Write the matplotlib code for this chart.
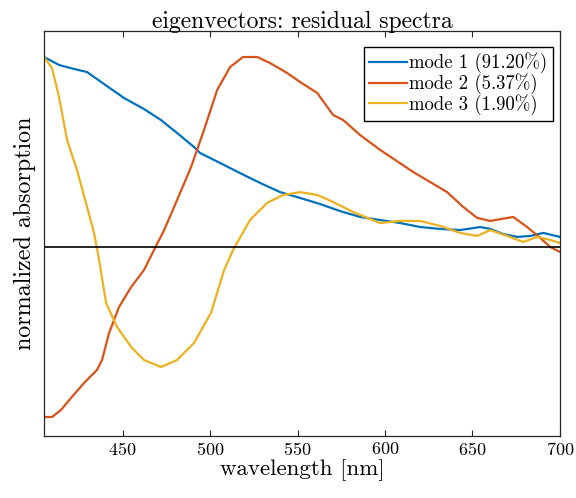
import numpy as np
import matplotlib.pyplot as plt

plt.rcParams['font.family'] = 'serif'
plt.rcParams['font.serif'] = ['cmr10']
plt.rcParams['axes.formatter.use_mathtext'] = True

# mode 1
wl1 = [405.0, 413.6, 422.2, 429.6, 435.3, 443.3, 450.8, 462.2, 471.9, 481.1, 490.8,
       494.2, 505.7, 517.1, 528.6, 540.0, 551.5, 562.9, 574.3, 585.8, 597.2,
       608.7, 620.1, 631.5, 643.0, 654.4, 660.2, 667.6, 675.6, 683.0, 690.5, 700.0]
m1 = [1.0, 0.958, 0.937, 0.921, 0.884, 0.832, 0.784, 0.726, 0.668, 0.600, 0.526,
      0.495, 0.442, 0.389, 0.337, 0.289, 0.258, 0.226, 0.189, 0.158, 0.142,
      0.126, 0.105, 0.095, 0.089, 0.105, 0.095, 0.068, 0.053, 0.058, 0.074, 0.053]

# mode 2
wl2 = [405.0, 409.6, 414.7, 420.4, 427.9, 435.3, 438.2, 442.2, 447.9, 454.8, 462.2,
       467.9, 473.7, 481.1, 489.1, 496.5, 504.0, 511.4, 518.8, 526.9, 534.3,
       544.0, 551.5, 561.2, 570.3, 576.1, 585.8, 597.2, 616.1, 635.5, 644.7,
       652.7, 660.2, 673.3, 681.3, 688.8, 694.5, 700.0]
m2 = [-0.895, -0.895, -0.858, -0.795, -0.716, -0.647, -0.595, -0.453, -0.316, -0.211, -0.121,
      -0.016, 0.089, 0.247, 0.421, 0.616, 0.826, 0.947, 1.0, 1.0, 0.968,
      0.916, 0.868, 0.811, 0.695, 0.668, 0.589, 0.511, 0.395, 0.289, 0.211,
      0.153, 0.137, 0.158, 0.105, 0.047, 0.0, -0.026]

# mode 3
wl3 = [405.0, 409.6, 413.6, 418.2, 423.9, 429.6, 433.6, 436.5, 440.5, 446.8, 454.8,
       462.2, 471.9, 481.1, 490.8, 500.5, 508.0, 513.1, 522.8, 532.6, 541.7,
       551.5, 561.2, 570.3, 581.8, 597.2, 608.7, 620.1, 631.5, 643.0, 652.7,
       660.2, 669.9, 679.0, 687.0, 694.5, 700.0]
m3 = [1.0, 0.942, 0.789, 0.563, 0.405, 0.211, 0.074, -0.068, -0.295, -0.421, -0.526,
      -0.595, -0.632, -0.595, -0.505, -0.347, -0.121, -0.016, 0.142, 0.232, 0.274,
      0.289, 0.274, 0.237, 0.184, 0.126, 0.137, 0.137, 0.111, 0.074, 0.058,
      0.089, 0.058, 0.026, 0.053, 0.037, 0.021]

labels = ['mode 1 (91.20%)', 'mode 2 (5.37%)', 'mode 3 (1.90%)']
cols = ['#0072BD', '#D95319', '#EDB120']

fig = plt.figure(figsize=(5.76, 4.98), dpi=100)
ax = fig.add_axes([0.0764, 0.1245, 0.8956, 0.8133])

for wl, m, c, lab in zip([wl1, wl2, wl3], [m1, m2, m3], cols, labels):
    ax.plot(wl, m, color=c, lw=1.6, label=lab, solid_joinstyle='round')
ax.axhline(0, color='k', lw=1.2)

ax.set_xlim(405, 700)
ax.set_ylim(-0.995, 1.137)
ax.set_xticks([450, 500, 550, 600, 650, 700])
ax.set_yticks([])
ax.tick_params(axis='x', direction='in', top=True, labelsize=13, length=4, color='#262626')
for s in ax.spines.values():
    s.set_color('#262626')
    s.set_linewidth(0.9)

ax.set_title('eigenvectors: residual spectra', fontsize=17, pad=2)
ax.set_xlabel('wavelength [nm]', fontsize=16.5, labelpad=1)
ax.set_ylabel('normalized absorption', fontsize=17.3, labelpad=6)

leg = ax.legend(loc='upper right', bbox_to_anchor=(0.9864, 0.9605), fontsize=13.5,
                fancybox=False, edgecolor='k', framealpha=1, handlelength=2.0,
                handletextpad=0.12, borderpad=0.3, labelspacing=0.0, borderaxespad=0)
leg.get_frame().set_linewidth(1.0)

fig.savefig('out.png', dpi=100)
